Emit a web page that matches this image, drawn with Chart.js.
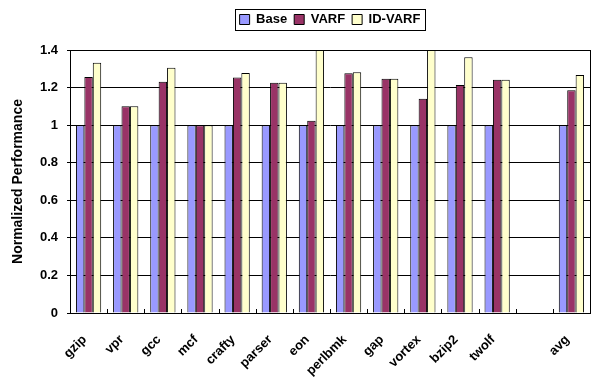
<!DOCTYPE html>
<html>
<head>
<meta charset="utf-8">
<script src="https://cdn.jsdelivr.net/npm/chart.js@4/dist/chart.umd.min.js"></script>
<style>
  html, body { margin: 0; padding: 0; background: #fff; }
  #wrap { width: 595px; height: 379px; }
</style>
</head>
<body>
<div id="wrap"><canvas id="perfChart"></canvas></div>
<script>
// benchmarks (blank slot before avg, like the original)
const categories = ['gzip', 'vpr', 'gcc', 'mcf', 'crafty', 'parser', 'eon', 'perlbmk', 'gap', 'vortex', 'bzip2', 'twolf', '', 'avg'];
const baseValues = [1, 1, 1, 1, 1, 1, 1, 1, 1, 1, 1, 1, null, 1];
const varfValues = [1.256, 1.10, 1.231, 1.0, 1.253, 1.226, 1.024, 1.276, 1.247, 1.141, 1.214, 1.242, null, 1.186];
const idVarfValues = [1.332, 1.10, 1.306, 1.0, 1.278, 1.226, 1.5, 1.281, 1.247, 1.5, 1.362, 1.242, null, 1.267];
const yTicks = [0, 0.2, 0.4, 0.6, 0.8, 1, 1.2, 1.4];

const font = "'Liberation Sans', Arial, sans-serif";
const legendShift = 30; // legend sits a bit right of centre in the original

// extra gap under the legend, and nudge it right
const legendGap = {
  id: 'legendGap',
  beforeInit(chart) {
    const fit = chart.legend.fit;
    chart.legend.fit = function () {
      fit.bind(chart.legend)();
      this.height += 14;
    };
    const draw = chart.legend.draw;
    chart.legend.draw = function () {
      const c = this.ctx;
      c.save();
      c.translate(legendShift, 0);
      draw.call(this);
      c.restore();
    };
  }
};

// box around the legend, frame around plot area, inner tick marks on x axis
const framePlugin = {
  id: 'frames',
  afterDraw(chart) {
    const ctx = chart.ctx;
    const a = chart.chartArea;
    ctx.save();
    ctx.strokeStyle = '#000';
    ctx.lineWidth = 1;
    ctx.strokeRect(Math.round(a.left) + 0.5, Math.round(a.top) + 0.5, Math.round(a.right - a.left), Math.round(a.bottom - a.top));
    const xs = chart.scales.x;
    const step = xs.getPixelForValue(1) - xs.getPixelForValue(0);
    ctx.beginPath();
    for (let i = 1; i < categories.length; i++) {
      const px = Math.round(xs.getPixelForValue(i) - step / 2) + 0.5;
      ctx.moveTo(px, a.bottom);
      ctx.lineTo(px, a.bottom - 4);
    }
    ctx.stroke();
    const lg = chart.legend;
    if (lg && lg.legendHitBoxes.length) {
      const first = lg.legendHitBoxes[0];
      const last = lg.legendHitBoxes[lg.legendHitBoxes.length - 1];
      const x1 = first.left - 5 + legendShift;
      const x2 = last.left + last.width + 4 + legendShift;
      ctx.strokeRect(Math.round(x1) + 0.5, Math.round(first.top - 4) + 0.5, Math.round(x2 - x1), Math.round(first.height + 8));
    }
    ctx.restore();
  }
};

new Chart(document.getElementById('perfChart'), {
  type: 'bar',
  data: {
    labels: categories,
    datasets: [
      { label: 'Base', data: baseValues, backgroundColor: '#9999FF', borderColor: '#000', borderWidth: 1 },
      { label: 'VARF', data: varfValues, backgroundColor: '#993366', borderColor: '#000', borderWidth: 1 },
      { label: 'ID-VARF', data: idVarfValues, backgroundColor: '#FFFFCC', borderColor: '#000', borderWidth: 1 }
    ]
  },
  options: {
    responsive: true,
    maintainAspectRatio: false,
    animation: false,
    categoryPercentage: 0.68,
    barPercentage: 1.0,
    layout: { padding: { left: 10, right: 5, top: 6, bottom: 0 } },
    plugins: {
      legend: {
        display: true,
        position: 'top',
        labels: {
          boxWidth: 10,
          boxHeight: 10,
          padding: 7,
          color: '#000',
          font: { family: font, size: 13, weight: 'bold' }
        }
      },
      tooltip: { enabled: false }
    },
    scales: {
      x: {
        grid: { display: false },
        border: { color: '#000' },
        afterFit(scale) { scale.height = 66; },
        ticks: {
          autoSkip: false,
          maxRotation: 45,
          minRotation: 45,
          color: '#000',
          padding: 11,
          labelOffset: -4,
          font: { family: font, size: 13, weight: 'bold' }
        }
      },
      y: {
        min: 0,
        max: 1.4,
        afterBuildTicks(axis) { axis.ticks = yTicks.map(v => ({ value: v })); },
        afterFit(scale) { scale.width = 60; },
        grid: { color: '#000', drawTicks: true, tickLength: 3 },
        border: { color: '#000' },
        ticks: {
          color: '#000',
          padding: 9,
          callback: v => String(Math.round(v * 10) / 10),
          font: { family: font, size: 13, weight: 'bold' }
        },
        title: {
          display: true,
          text: 'Normalized Performance',
          color: '#000',
          padding: { top: 0, bottom: 4 },
          font: { family: font, size: 14, weight: 'bold' }
        }
      }
    }
  },
  plugins: [legendGap, framePlugin]
});
</script>
</body>
</html>
